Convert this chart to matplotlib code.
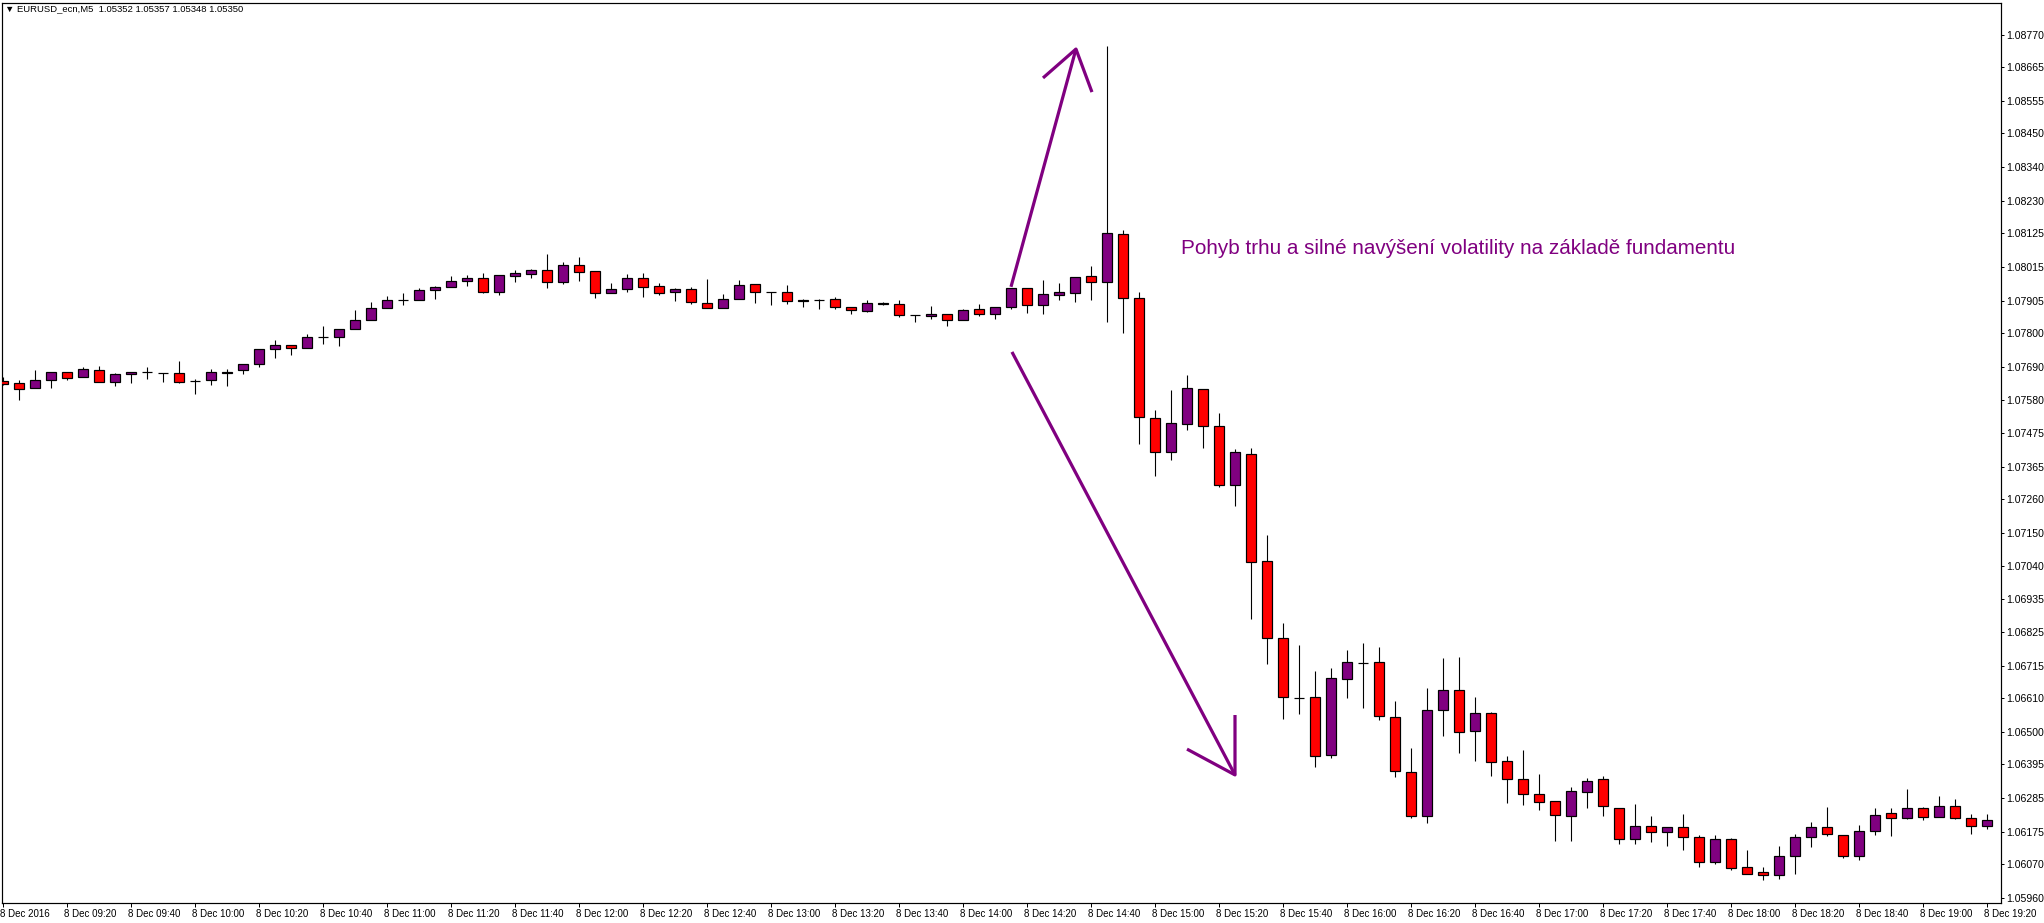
#!/usr/bin/env python3

import numpy as np
import pandas as pd
import matplotlib
matplotlib.use('Agg')
import matplotlib.pyplot as plt
from matplotlib.transforms import ScaledTranslation

# EURUSD M5, 8 Dec 2016 09:00 - 19:20
opens = [1.07643, 1.07636, 1.07620, 1.07646, 1.07672, 1.07656, 1.07678, 1.07639, 1.07665, 1.07672,
         1.07669, 1.07669, 1.07642, 1.07646, 1.07670, 1.07678, 1.07698, 1.07747, 1.07760, 1.07750,
         1.07786, 1.07786, 1.07812, 1.07841, 1.07880, 1.07906, 1.07906, 1.07939, 1.07948, 1.07968,
         1.07978, 1.07932, 1.07984, 1.07991, 1.08004, 1.07965, 1.08020, 1.08000, 1.07929, 1.07942,
         1.07978, 1.07952, 1.07932, 1.07942, 1.07896, 1.07880, 1.07909, 1.07958, 1.07932, 1.07932,
         1.07907, 1.07907, 1.07909, 1.07883, 1.07870, 1.07896, 1.07893, 1.07857, 1.07854, 1.07861,
         1.07841, 1.07877, 1.07861, 1.07883, 1.07945, 1.07890, 1.07922, 1.07929, 1.07984, 1.07965,
         1.08121, 1.07913, 1.07522, 1.07411, 1.07502, 1.07616, 1.07496, 1.07304, 1.07405, 1.07056,
         1.06806, 1.06610, 1.06614, 1.06425, 1.06672, 1.06726, 1.06728, 1.06549, 1.06369, 1.06226,
         1.06571, 1.06636, 1.06503, 1.06561, 1.06405, 1.06347, 1.06298, 1.06275, 1.06228, 1.06304,
         1.06347, 1.06252, 1.06151, 1.06194, 1.06174, 1.06190, 1.06158, 1.06076, 1.06151, 1.06060,
         1.06044, 1.06034, 1.06096, 1.06158, 1.06190, 1.06164, 1.06096, 1.06177, 1.06236, 1.06220,
         1.06252, 1.06223, 1.06259, 1.06220, 1.06194]
highs = [1.07657, 1.07646, 1.07679, 1.07672, 1.07672, 1.07688, 1.07692, 1.07669, 1.07672, 1.07689,
         1.07669, 1.07709, 1.07649, 1.07683, 1.07683, 1.07698, 1.07747, 1.07777, 1.07760, 1.07796,
         1.07822, 1.07812, 1.07874, 1.07900, 1.07919, 1.07929, 1.07945, 1.07952, 1.07984, 1.07988,
         1.07994, 1.07988, 1.08004, 1.08009, 1.08058, 1.08030, 1.08047, 1.08001, 1.07963, 1.07992,
         1.07995, 1.07963, 1.07945, 1.07948, 1.07975, 1.07927, 1.07971, 1.07958, 1.07933, 1.07956,
         1.07909, 1.07909, 1.07916, 1.07883, 1.07906, 1.07900, 1.07906, 1.07857, 1.07887, 1.07861,
         1.07877, 1.07893, 1.07883, 1.07945, 1.07945, 1.07972, 1.07962, 1.07981, 1.08017, 1.08734,
         1.08135, 1.07932, 1.07548, 1.07613, 1.07662, 1.07616, 1.07538, 1.07421, 1.07424, 1.07141,
         1.06855, 1.06783, 1.06698, 1.06708, 1.06767, 1.06789, 1.06776, 1.06601, 1.06448, 1.06643,
         1.06741, 1.06744, 1.06614, 1.06565, 1.06422, 1.06441, 1.06363, 1.06275, 1.06321, 1.06350,
         1.06356, 1.06252, 1.06265, 1.06226, 1.06190, 1.06233, 1.06164, 1.06164, 1.06155, 1.06115,
         1.06060, 1.06128, 1.06168, 1.06207, 1.06255, 1.06164, 1.06197, 1.06252, 1.06252, 1.06314,
         1.06255, 1.06291, 1.06281, 1.06233, 1.06233]
lows = [1.07630, 1.07583, 1.07619, 1.07622, 1.07648, 1.07656, 1.07639, 1.07628, 1.07638, 1.07651,
        1.07641, 1.07638, 1.07602, 1.07631, 1.07628, 1.07667, 1.07690, 1.07719, 1.07729, 1.07750,
        1.07765, 1.07758, 1.07812, 1.07841, 1.07880, 1.07890, 1.07906, 1.07911, 1.07948, 1.07952,
        1.07929, 1.07922, 1.07967, 1.07980, 1.07947, 1.07958, 1.07970, 1.07915, 1.07929, 1.07934,
        1.07918, 1.07924, 1.07905, 1.07895, 1.07880, 1.07880, 1.07909, 1.07896, 1.07892, 1.07893,
        1.07883, 1.07877, 1.07877, 1.07861, 1.07867, 1.07890, 1.07851, 1.07835, 1.07844, 1.07822,
        1.07841, 1.07856, 1.07844, 1.07877, 1.07866, 1.07863, 1.07906, 1.07900, 1.07906, 1.07835,
        1.07799, 1.07437, 1.07333, 1.07385, 1.07483, 1.07424, 1.07297, 1.07238, 1.06868, 1.06723,
        1.06544, 1.06560, 1.06388, 1.06417, 1.06612, 1.06580, 1.06539, 1.06353, 1.06220, 1.06203,
        1.06487, 1.06431, 1.06405, 1.06356, 1.06268, 1.06264, 1.06246, 1.06147, 1.06146, 1.06254,
        1.06228, 1.06137, 1.06137, 1.06143, 1.06130, 1.06117, 1.06060, 1.06070, 1.06050, 1.06037,
        1.06018, 1.06021, 1.06037, 1.06125, 1.06161, 1.06089, 1.06083, 1.06164, 1.06161, 1.06216,
        1.06213, 1.06223, 1.06216, 1.06168, 1.06184]
closes = [1.07633, 1.07616, 1.07646, 1.07672, 1.07654, 1.07682, 1.07639, 1.07665, 1.07672, 1.07672,
          1.07669, 1.07641, 1.07642, 1.07672, 1.07674, 1.07698, 1.07747, 1.07760, 1.07750, 1.07786,
          1.07786, 1.07812, 1.07841, 1.07880, 1.07906, 1.07906, 1.07939, 1.07948, 1.07968, 1.07978,
          1.07932, 1.07988, 1.07994, 1.08004, 1.07965, 1.08020, 1.07999, 1.07929, 1.07942, 1.07978,
          1.07948, 1.07929, 1.07942, 1.07900, 1.07880, 1.07909, 1.07955, 1.07932, 1.07932, 1.07903,
          1.07903, 1.07907, 1.07883, 1.07874, 1.07896, 1.07893, 1.07857, 1.07857, 1.07861, 1.07841,
          1.07874, 1.07861, 1.07883, 1.07945, 1.07890, 1.07926, 1.07932, 1.07981, 1.07965, 1.08124,
          1.07913, 1.07525, 1.07411, 1.07506, 1.07620, 1.07496, 1.07304, 1.07411, 1.07053, 1.06806,
          1.06614, 1.06610, 1.06422, 1.06676, 1.06728, 1.06726, 1.06552, 1.06373, 1.06226, 1.06571,
          1.06636, 1.06500, 1.06561, 1.06402, 1.06347, 1.06298, 1.06272, 1.06229, 1.06308, 1.06340,
          1.06259, 1.06151, 1.06194, 1.06174, 1.06190, 1.06158, 1.06076, 1.06151, 1.06057, 1.06040,
          1.06034, 1.06096, 1.06158, 1.06190, 1.06168, 1.06096, 1.06177, 1.06229, 1.06220, 1.06252,
          1.06223, 1.06259, 1.06220, 1.06194, 1.06213]

times = pd.date_range('2016-12-08 09:00', periods=len(opens), freq='5min')

price_ticks = [1.08770, 1.08665, 1.08555, 1.08450, 1.08340, 1.08230, 1.08125, 1.08015, 1.07905,
               1.07800, 1.07690, 1.07580, 1.07475, 1.07365, 1.07260, 1.07150, 1.07040, 1.06935,
               1.06825, 1.06715, 1.06610, 1.06500, 1.06395, 1.06285, 1.06175, 1.06070, 1.05960]

# hand drawn arrows: (bar index, price)
arrow_up = [[(63.0, 1.07950), (67.06, 1.08724)],
            [(65.0, 1.08630), (67.06, 1.08724), (68.06, 1.08584)]]
arrow_down = [[(63.06, 1.07738), (77.0, 1.06361)],
              [(74.0, 1.06445), (77.0, 1.06361), (77.0, 1.06556)]]

note = 'Pohyb trhu a silné navýšení volatility na základě fundamentu'
header = '\u25bc EURUSD_ecn,M5  1.05352 1.05357 1.05348 1.05350'

bull_col = '#800080'
bear_col = '#ff0000'
px = 0.72  # one pixel in points at dpi 100

plt.rcParams['font.family'] = ['Liberation Sans', 'DejaVu Sans']

W, H = 2044, 923
fig = plt.figure(figsize=(W/100, H/100), dpi=100)
ax = fig.add_axes([2/W, 20/H, 1999/W, 900/H])

o = np.array(opens); h = np.array(highs); l = np.array(lows); c = np.array(closes)
idx = np.arange(len(o))

ax.vlines(idx, l, h, color='black', lw=px*1.1, zorder=2)
cols = np.where(c > o, bull_col, bear_col)
ax.bar(idx, np.abs(c - o), bottom=np.minimum(o, c), width=0.64,
       color=cols, edgecolor='black', linewidth=px*1.2, zorder=3)

for seg in arrow_up + arrow_down:
    xs, ys = zip(*seg)
    ax.plot(xs, ys, color=bull_col, lw=px*3.2, solid_capstyle='butt', zorder=4)

ax.text(73.6, 1.08076, note, color=bull_col, fontsize=14.9, ha='left', va='center')

ax.set_xlim(-1/16, 1998/16)
ax.set_ylim(1.05944, 1.08874)

ax.yaxis.tick_right()
ax.set_yticks(price_ticks)
ax.set_yticklabels(['%.5f' % v for v in price_ticks])
ax.tick_params(axis='y', length=3*px, width=px, pad=1.5, labelsize=7.6)

xt = idx[::4]
xl = ['8 Dec 2016' if t == times[0] else t.strftime('%-d %b %H:%M') for t in times[::4]]
ax.set_xticks(xt)
ax.set_xticklabels(xl, ha='left')
ax.tick_params(axis='x', length=4*px, width=px, pad=1.5, labelsize=7.0)
shift = ScaledTranslation(-3/100, 0, fig.dpi_scale_trans)
for lbl in ax.get_xticklabels():
    lbl.set_transform(lbl.get_transform() + shift)

for s in ax.spines.values():
    s.set_linewidth(px*1.2)

fig.text(5/W, 1 - 9/H, header, fontsize=6.8, ha='left', va='center')

fig.savefig('out.png', dpi=100, facecolor='white')
